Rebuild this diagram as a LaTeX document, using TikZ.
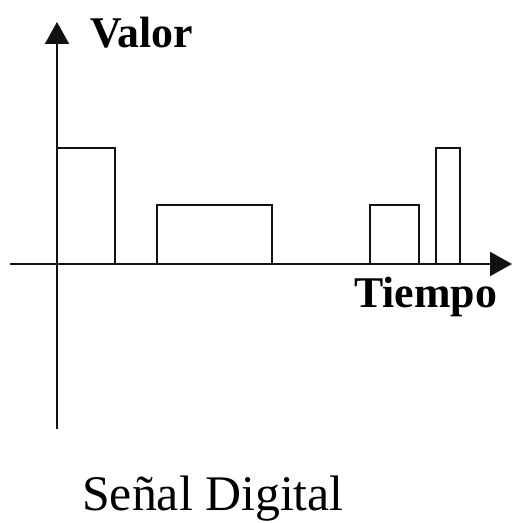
\documentclass[tikz,border=0pt]{standalone}
\usepackage{fontspec}
\setmainfont{Liberation Serif}
\usetikzlibrary{arrows.meta,positioning,calc}
\definecolor{Ink}{HTML}{111111}
\newcommand{\Pulso}[3]{%
  \draw[Ink,line width=2bp] (#1,259) -- (#1,#3) -- (#2,#3) -- (#2,259);%
}

\begin{document}
\begin{tikzpicture}[x=1bp,y=1bp,
  eje/.style={Ink,line width=2bp,-{Triangle[length=22bp,width=24bp]}}]
\useasboundingbox (0,0) rectangle (512,523);
\coordinate (abajo) at (57,94);
\coordinate (arriba) at (57,501);
\coordinate (izq) at (10,259);
\coordinate (der) at (512,259);
\draw[eje] (abajo) -- (arriba);
\draw[eje] (izq) -- (der);
% pulsos
\foreach \a/\b/\h in {57/115/375,157/272/318,370/419/318,436/460/375} {
  \Pulso{\a}{\b}{\h}
}
\node[anchor=base west,inner sep=0pt,font=\bfseries\fontsize{44}{44}\selectfont] (valor) at (90,475) {Valor};
\node[anchor=base west,inner sep=0pt,font=\bfseries\fontsize{44}{44}\selectfont] (tiempo) at (354,215) {Tiempo};
\node[anchor=base west,inner sep=0pt,font=\fontsize{50}{50}\selectfont] (titulo) at (82,12) {Señal Digital};
\end{tikzpicture}
\end{document}
